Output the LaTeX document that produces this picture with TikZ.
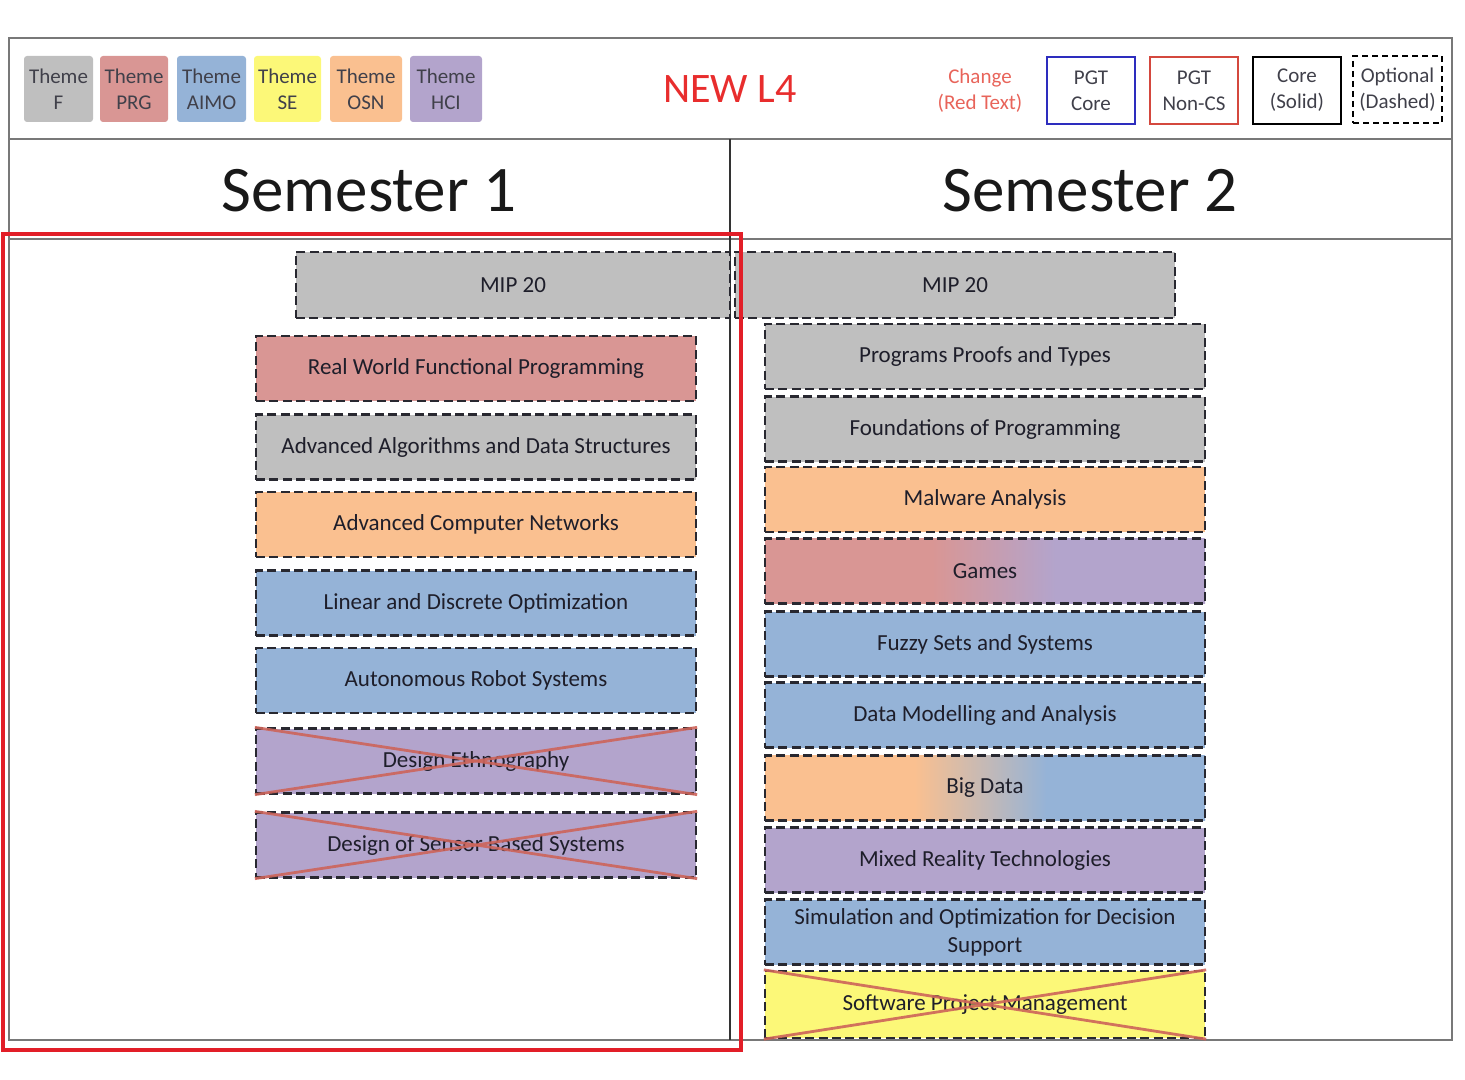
\documentclass[tikz,border=0pt]{standalone}
\usepackage{fontspec}
\setmainfont{Carlito}
\usetikzlibrary{shadings}
\definecolor{thF}{RGB}{191,191,191}
\definecolor{thPRG}{RGB}{217,150,148}
\definecolor{thAIMO}{RGB}{149,179,215}
\definecolor{thSE}{RGB}{252,248,120}
\definecolor{thOSN}{RGB}{250,192,144}
\definecolor{thHCI}{RGB}{179,164,204}
\definecolor{txt}{RGB}{30,30,42}
\definecolor{dashc}{RGB}{40,40,48}
\definecolor{framec}{RGB}{120,120,120}
\definecolor{redbox}{RGB}{226,30,40}
\definecolor{crossc}{RGB}{205,100,90}
\definecolor{newred}{RGB}{232,45,45}
\definecolor{chgred}{RGB}{232,100,90}
\definecolor{pgtblue}{RGB}{45,45,190}
\definecolor{pgtred}{RGB}{212,72,62}
\pgfdeclarehorizontalshading{gamessh}{100bp}{color(0bp)=(thPRG); color(44bp)=(thPRG); color(58bp)=(thHCI); color(100bp)=(thHCI)}
\pgfdeclarehorizontalshading{bigsh}{100bp}{color(0bp)=(thOSN); color(42bp)=(thOSN); color(57bp)=(thAIMO); color(100bp)=(thAIMO)}
\tikzset{
  course/.style={draw=dashc, line width=1.15pt, dash pattern=on 4.5pt off 2.2pt,
    minimum width=220pt, minimum height=32.5pt, inner sep=0pt,
    font=\fontsize{11.5pt}{14pt}\selectfont, text=txt, align=center},
  theme/.style={rounded corners=1.5pt, minimum height=33pt, inner sep=0pt,
    font=\fontsize{10.5pt}{13pt}\selectfont, text=txt!85, align=center},
  legbox/.style={line width=1pt, minimum width=44pt, minimum height=33.5pt, inner sep=0pt,
    font=\fontsize{10.5pt}{13pt}\selectfont, text=txt!85, align=center},
  crossl/.style={draw=crossc, line width=1.4pt, opacity=0.9},
  frameline/.style={draw=framec, line width=0.9pt},
  semtext/.style={font=\fontsize{32.5pt}{36pt}\selectfont, text=black!90}
}
\begin{document}
\begin{tikzpicture}[x=0.5pt,y=-0.5pt]
\useasboundingbox (0,0) rectangle (1465,1080);
% frame
\coordinate (ftl) at (9,38);
\coordinate (fbr) at (1452,1040);
\coordinate (h1l) at (9,139);
\coordinate (h1r) at (1452,139);
\coordinate (h2l) at (9,239);
\coordinate (h2r) at (1452,239);
\coordinate (vt) at (730,139);
\coordinate (vb) at (730,1040);
\draw[frameline] (ftl) rectangle (fbr);
\draw[frameline] (h1l) -- (h1r);
\draw[frameline] (h2l) -- (h2r);
\draw[draw=black!80, line width=0.7pt] (vt) -- (vb);
% legend themes
\node[theme, fill=thF, minimum width=34.5pt] (lf) at (58.5,89) {Theme\\F};
\node[theme, fill=thPRG, minimum width=34pt] (lprg) at (134,89) {Theme\\PRG};
\node[theme, fill=thAIMO, minimum width=34.5pt] (laimo) at (211.5,89) {Theme\\AIMO};
\node[theme, fill=thSE, minimum width=33.5pt] (lse) at (287.5,89) {Theme\\SE};
\node[theme, fill=thOSN, minimum width=36pt] (losn) at (366,89) {Theme\\OSN};
\node[theme, fill=thHCI, minimum width=36pt] (lhci) at (446,89) {Theme\\HCI};
\node[font=\fontsize{21pt}{24pt}\selectfont, text=newred] (newl4) at (730,89) {NEW L4};
\node[font=\fontsize{10.5pt}{13pt}\selectfont, text=chgred, align=center] (chg) at (980,91) {Change\\(Red Text)};
\node[legbox, draw=pgtblue] (pgtc) at (1091,90.5) {PGT\\Core};
\node[legbox, draw=pgtred] (pgtn) at (1194,90.5) {PGT\\Non-CS};
\node[legbox, draw=black] (coreb) at (1297,90.5) {Core\\(Solid)};
\node[legbox, draw=black, dash pattern=on 3pt off 2pt, minimum width=44.5pt] (optb) at (1397.5,89.5) {Optional\\(Dashed)};
% semesters
\node[semtext] (sem1) at (369,191) {Semester 1};
\node[semtext] (sem2) at (1090,191) {Semester 2};
% MIP
\node[course, fill=thF, minimum width=217pt, minimum height=33pt] (mip1) at (513,285) {MIP 20};
\node[course, fill=thF, minimum width=220pt, minimum height=33pt] (mip2) at (955,285) {MIP 20};
% semester 1 column
\node[course, fill=thPRG] (rwfp) at (476,368.5) {Real World Functional Programming};
\node[course, fill=thF] (aads) at (476,447) {Advanced Algorithms and Data Structures};
\node[course, fill=thOSN] (acn) at (476,524.5) {Advanced Computer Networks};
\node[course, fill=thAIMO] (ldo) at (476,603) {Linear and Discrete Optimization};
\node[course, fill=thAIMO] (ars) at (476,680.5) {Autonomous Robot Systems};
\node[course, fill=thHCI] (de) at (476,761) {Design Ethnography};
\node[course, fill=thHCI] (dsbs) at (476,845) {Design of Sensor Based Systems};
\draw[crossl] (de.north west) -- (de.south east);
\draw[crossl] (de.south west) -- (de.north east);
\draw[crossl] (dsbs.north west) -- (dsbs.south east);
\draw[crossl] (dsbs.south west) -- (dsbs.north east);
% semester 2 column
\node[course, fill=thF] (ppt) at (985,356.5) {Programs Proofs and Types};
\node[course, fill=thF] (fop) at (985,429) {Foundations of Programming};
\node[course, fill=thOSN] (mal) at (985,499.5) {Malware Analysis};
\node[course, shading=gamessh] (games) at (985,571) {Games};
\node[course, fill=thAIMO] (fuzzy) at (985,644) {Fuzzy Sets and Systems};
\node[course, fill=thAIMO] (dma) at (985,715) {Data Modelling and Analysis};
\node[course, shading=bigsh] (big) at (985,788) {Big Data};
\node[course, fill=thHCI] (mrt) at (985,860) {Mixed Reality Technologies};
\node[course, fill=thAIMO] (sim) at (985,932) {Simulation and Optimization for Decision\\Support};
\node[course, fill=thSE, minimum height=33.5pt] (spm) at (985,1004.5) {Software Project Management};
\draw[crossl] (spm.north west) -- (spm.south east);
\draw[crossl] (spm.south west) -- (spm.north east);
% highlight
\coordinate (rtl) at (3,234);
\coordinate (rbr) at (741,1050);
\draw[draw=redbox, line width=2pt] (rtl) rectangle (rbr);
\end{tikzpicture}
\end{document}
